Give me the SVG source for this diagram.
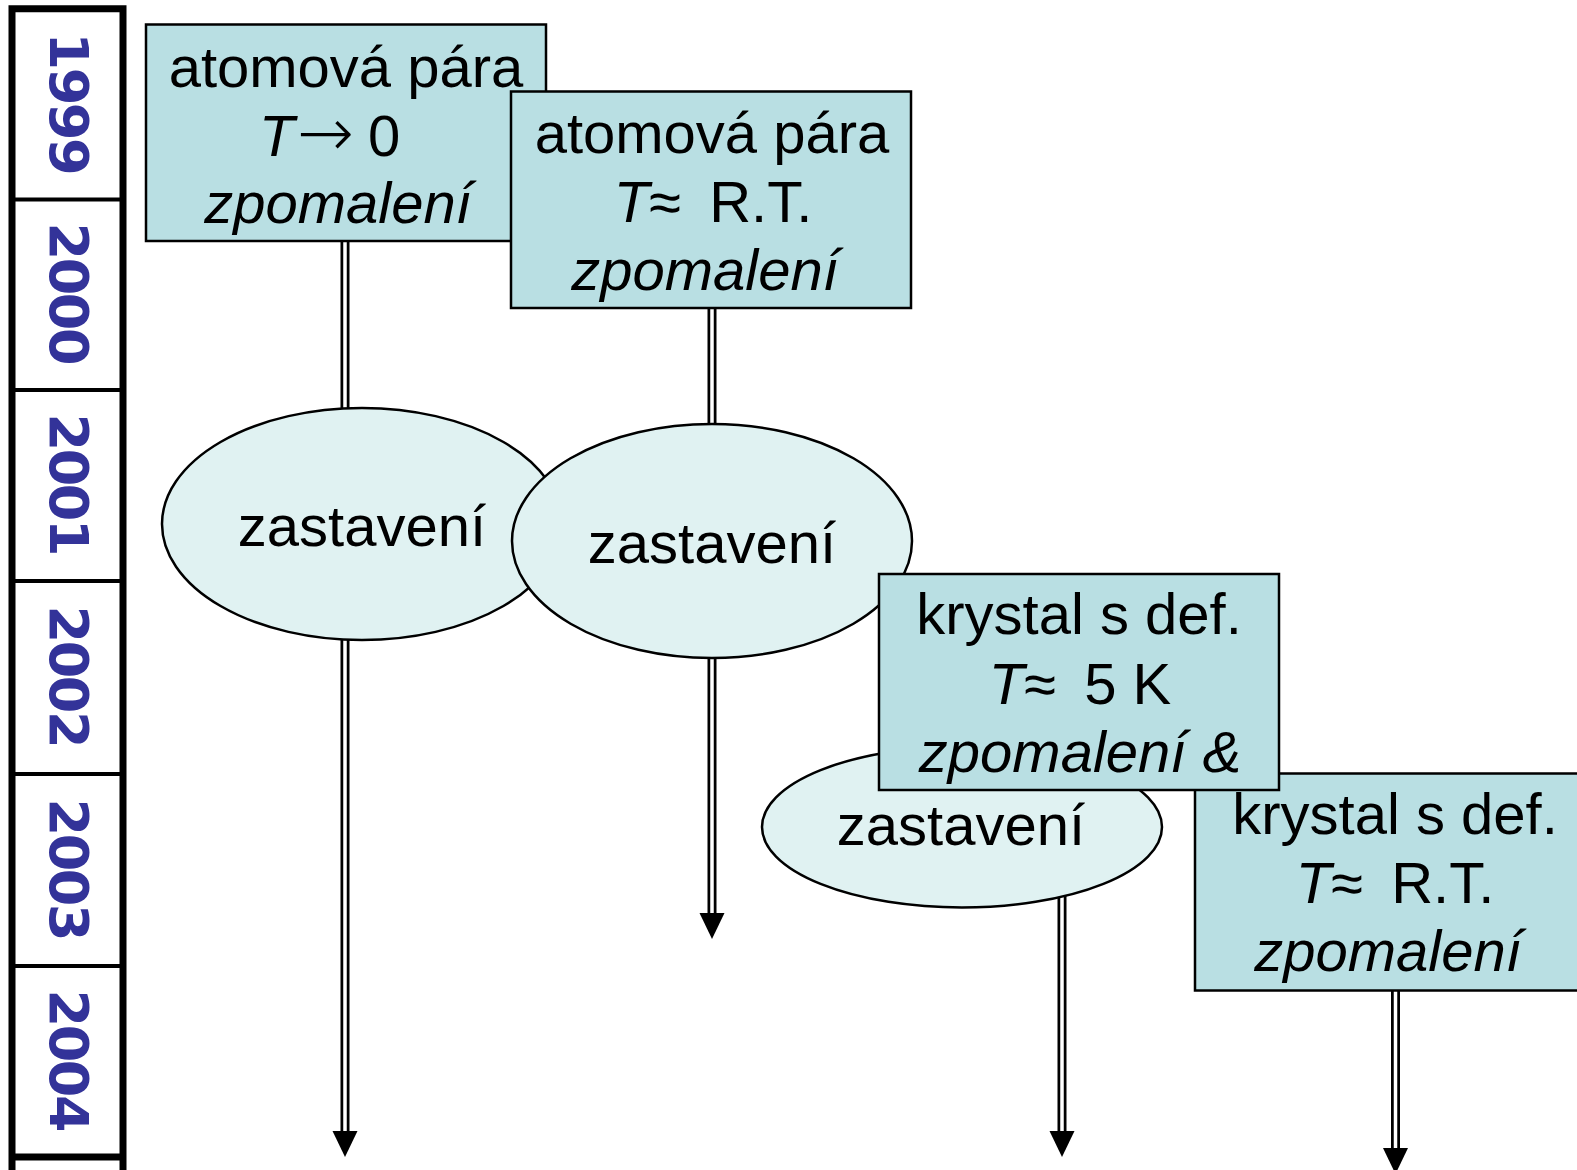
<svg xmlns="http://www.w3.org/2000/svg" width="1577" height="1170" viewBox="0 0 1577 1170">
<defs>
<style>
.box{fill:#B9DFE3;stroke:#000;stroke-width:2.5}
.ell{fill:#E0F2F2;stroke:#000;stroke-width:2.5}
.t{font-family:"Liberation Sans",Arial,sans-serif;font-size:58px;fill:#000;text-anchor:middle}
.s{text-anchor:start}
.i{font-style:italic}
.arr{font-family:"DejaVu Sans",sans-serif;font-size:68px;font-weight:200}
.yr{font-family:"DejaVu Sans",Verdana,sans-serif;font-weight:bold;font-size:54px;fill:#333399;text-anchor:middle}
.outer{fill:none;stroke:#000;stroke-width:9}
.inner{fill:none;stroke:#fff;stroke-width:3.5}
.tl{stroke:#000;fill:none}
</style>
<marker id="ah" markerUnits="userSpaceOnUse" markerWidth="27" markerHeight="26" refX="0" refY="12.5" orient="auto">
<path d="M0,0 L26,12.5 L0,25 z" fill="#000"/>
</marker>
</defs>
<rect width="1577" height="1170" fill="#fff"/>

<g id="timeline">
<path class="tl" stroke-width="7" d="M12,1170 V8.7 H123 V1170"/>
<path class="tl" stroke-width="4" d="M12,199.5 H123 M12,390 H123 M12,581 H123 M12,774 H123 M12,966 H123"/>
<path class="tl" stroke-width="7" d="M12,1157 H123"/>
<text class="yr" transform="translate(50,104) rotate(90)" textLength="143">1999</text>
<text class="yr" transform="translate(50,294) rotate(90)" textLength="143">2000</text>
<text class="yr" transform="translate(50,485) rotate(90)" textLength="143">2001</text>
<text class="yr" transform="translate(50,677) rotate(90)" textLength="143">2002</text>
<text class="yr" transform="translate(50,870) rotate(90)" textLength="143">2003</text>
<text class="yr" transform="translate(50,1061) rotate(90)" textLength="143">2004</text>
</g>

<g id="connectors">
<line class="outer" x1="345" y1="241" x2="345" y2="1131" marker-end="url(#ah)"/>
<line class="inner" x1="345" y1="241" x2="345" y2="1131"/>
<line class="outer" x1="712" y1="308" x2="712" y2="913" marker-end="url(#ah)"/>
<line class="inner" x1="712" y1="308" x2="712" y2="913"/>
<line class="outer" x1="1062" y1="790" x2="1062" y2="1131" marker-end="url(#ah)"/>
<line class="inner" x1="1062" y1="790" x2="1062" y2="1131"/>
<line class="outer" x1="1395.5" y1="991" x2="1395.5" y2="1148" marker-end="url(#ah)"/>
<line class="inner" x1="1395.5" y1="991" x2="1395.5" y2="1148"/>
</g>

<g id="box1">
<rect class="box" x="146" y="24.5" width="400" height="216.5"/>
<text class="t" x="346" y="86.5">atomová pára</text>
<text class="t s" x="259" y="156"><tspan class="i">T</tspan><tspan class="arr" x="297">→</tspan><tspan x="368">0</tspan></text>
<text class="t i" x="338" y="223">zpomalení</text>
</g>

<g id="box2">
<rect class="box" x="511" y="91.5" width="400" height="216.5"/>
<text class="t" x="712" y="153">atomová pára</text>
<text class="t" x="713" y="221.5"><tspan class="i">T</tspan>≈ <tspan dx="12">R.T.</tspan></text>
<text class="t i" x="705" y="290">zpomalení</text>
</g>

<g id="ell1">
<ellipse class="ell" cx="362" cy="524" rx="200" ry="116"/>
<text class="t" x="362" y="546">zastavení</text>
</g>

<g id="ell2">
<ellipse class="ell" cx="712" cy="541" rx="200" ry="117"/>
<text class="t" x="712" y="563">zastavení</text>
</g>

<g id="ell3">
<ellipse class="ell" cx="962" cy="827" rx="200" ry="80.5"/>
<text class="t" x="961" y="845">zastavení</text>
</g>

<g id="box4">
<rect class="box" x="1195" y="773.5" width="400" height="217"/>
<text class="t" x="1395" y="834">krystal s def.</text>
<text class="t" x="1395" y="903"><tspan class="i">T</tspan>≈ <tspan dx="12">R.T.</tspan></text>
<text class="t i" x="1388" y="971">zpomalení</text>
</g>

<g id="box3">
<rect class="box" x="879" y="574" width="400" height="216"/>
<text class="t" x="1079" y="634">krystal s def.</text>
<text class="t" x="1080" y="704"><tspan class="i">T</tspan>≈ <tspan dx="12">5 K</tspan></text>
<text class="t i" x="1080" y="772">zpomalení &amp;</text>
</g>
</svg>
